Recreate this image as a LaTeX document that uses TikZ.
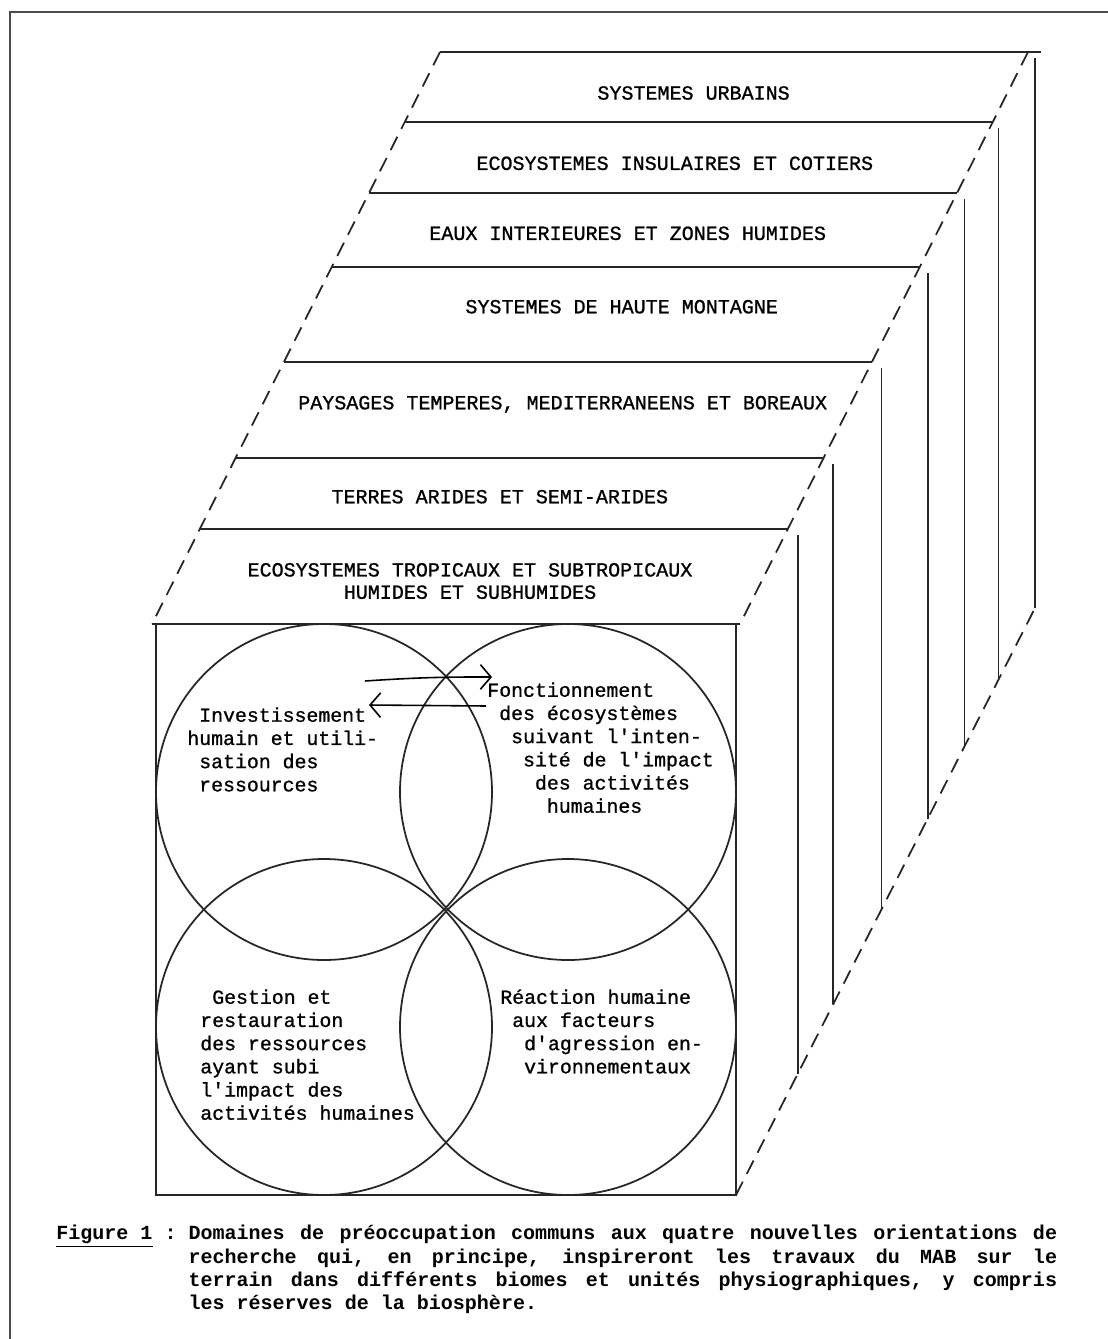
\documentclass[tikz,border=0pt]{standalone}
\usepackage{fontspec}
\newfontfamily\typewriter[Ligatures=TeXOff, FakeBold=1]{Liberation Mono}
\newfontfamily\typebold[Ligatures=TeXOff]{Liberation Mono Bold}
\usetikzlibrary{arrows.meta}
\newcommand{\typind}[1]{\hphantom{#1}}
\tikzset{
    solidline/.style  = {line width=1pt, draw=black!85},
    hiddenline/.style = {line width=1pt, draw=black!85, dash pattern=on 8.5pt off 5pt},
    strip/.style      = {inner sep=0pt, align=center, font=\typewriter\fontsize{11.4}{12.7}\selectfont},
    domtext/.style    = {inner sep=0pt, anchor=north west, align=left, font=\typewriter\fontsize{11.3}{13.2}\selectfont},
    handarrow/.style  = {-{Straight Barb[length=6pt, width=14pt]}, line width=0.9pt},
    legendtext/.style = {inner sep=0pt, anchor=north west, text width=20.02cm, align=justify,
                         font=\typebold\fontsize{11.4}{13.3}\selectfont}
}

\begin{document}
\begin{tikzpicture}[x=0.02cm, y=-0.02cm,
        pageframe/.style = {line width=1.1pt, draw=black!70}
    ]
    \useasboundingbox (0,0) rectangle (1108,1339);

    % Page frame
    \draw[pageframe] (10,1339) -- (10,12) -- (1108,12);

    % Top face, slab edges (left dashed side / right dashed side)
    \coordinate (l0) at (440,52);    \coordinate (r0) at (1028,52);
    \coordinate (l1) at (404.8,122); \coordinate (r1) at (992.8,122);
    \coordinate (l2) at (369,193);   \coordinate (r2) at (957,193);
    \coordinate (l3) at (331.7,267); \coordinate (r3) at (919.7,267);
    \coordinate (l4) at (283.9,362); \coordinate (r4) at (871.9,362);
    \coordinate (l5) at (235.6,458); \coordinate (r5) at (823.6,458);
    \coordinate (l6) at (199.8,529); \coordinate (r6) at (787.8,529);
    \coordinate (l7) at (152,624);   \coordinate (r7) at (740,624);

    \draw[hiddenline] (l0) -- (l7);
    \draw[hiddenline] (r0) -- (r7);
    \draw[solidline] (l0) -- (1041,52);
    \draw[solidline] (l1) -- (r1);
    \draw[solidline] (l2) -- (r2);
    \draw[solidline] (l3) -- (r3);
    \draw[solidline] (l4) -- (r4);
    \draw[solidline] (l5) -- (r5);
    \draw[solidline] (l6) -- (r6);
    \draw[solidline] (l7) -- (r7);

    % Front face
    \coordinate (fa) at (156,624);
    \coordinate (fb) at (736,1195);
    \draw[solidline] (fa) -- (fa |- fb) -- (fb) -- (fb |- fa);

    % Right face
    \coordinate (b0) at (1035,608);
    \draw[hiddenline] (fb) -- (b0);
    \draw[solidline] (1035,58) -- (b0);
    \draw[solidline] (998.6,128) -- (998.6,679.5);
    \draw[solidline] (964.4,199) -- (964.4,746.6);
    \draw[solidline] (927.7,273) -- (927.7,818.7);
    \draw[solidline] (881.5,368) -- (881.5,909.4);
    \draw[solidline] (833.3,464) -- (833.3,1004);
    \draw[solidline] (797.7,535) -- (797.7,1073.9);

    % Slab labels
    \node[strip, anchor=base] (urbain)  at (693.6,99.6)  {SYSTEMES URBAINS};
    \node[strip, anchor=base] (insul)   at (674.8,169.9) {ECOSYSTEMES INSULAIRES ET COTIERS};
    \node[strip, anchor=base] (eaux)    at (627.7,239.9) {EAUX INTERIEURES ET ZONES HUMIDES};
    \node[strip, anchor=base] (montag)  at (621.7,313.3) {SYSTEMES DE HAUTE MONTAGNE};
    \node[strip, anchor=base] (paysag)  at (562.7,409.3) {PAYSAGES TEMPERES, MEDITERRANEENS ET BOREAUX};
    \node[strip, anchor=base] (arides)  at (499.8,503.3) {TERRES ARIDES ET SEMI-ARIDES};
    \node[strip, anchor=north] (tropic) at (470,562.7)   {ECOSYSTEMES TROPICAUX ET SUBTROPICAUX\\HUMIDES ET SUBHUMIDES};

    % Four overlapping circles
    \coordinate (ctl) at (324,792);
    \coordinate (ctr) at (568,792);
    \coordinate (cbl) at (324,1027);
    \coordinate (cbr) at (568,1027);
    \draw[solidline] (ctl) circle[radius=168];
    \draw[solidline] (ctr) circle[radius=168];
    \draw[solidline] (cbl) circle[radius=168];
    \draw[solidline] (cbr) circle[radius=168];

    \node[domtext] (invest) at (187,707)
        {\typind{x}Investissement\\humain et utili-\\\typind{x}sation des\\\typind{x}ressources};
    \node[domtext] (fonct) at (487,682)
        {Fonctionnement\\\typind{x}des écosystèmes\\\typind{xx}suivant l'inten-\\\typind{xxx}sité de l'impact\\\typind{xxxx}des activités\\\typind{xxxxx}humaines};
    \node[domtext] (gestion) at (200,989)
        {\typind{x}Gestion et\\restauration\\des ressources\\ayant subi\\l'impact des\\activités humaines};
    \node[domtext] (reaction) at (500,989)
        {Réaction humaine\\\typind{x}aux facteurs\\\typind{xx}d'agression en-\\\typind{xx}vironnementaux};

    % Exchange arrows
    \coordinate (outS) at (365,681);
    \coordinate (outE) at (492,677);
    \coordinate (backS) at (486,706);
    \coordinate (backE) at (369,705);
    \draw[handarrow] (outS) to[bend left=2] (outE);
    \draw[handarrow] (backS) -- (backE);

    % Caption
    \node[legendtext] (legend) at (56,1225)
        {\spaceskip=0.6em plus 1em minus 0.05em\hangindent=6.6em\hangafter=1
         \makebox[6.6em][l]{\underline{Figure 1} :}Domaines de préoccupation communs aux quatre nouvelles orientations de\linebreak
         recherche qui, en principe, inspireront les travaux du MAB sur le\linebreak
         terrain dans différents biomes et unités physiographiques, y compris\linebreak
         les réserves de la biosphère.\par};
\end{tikzpicture}
\end{document}
